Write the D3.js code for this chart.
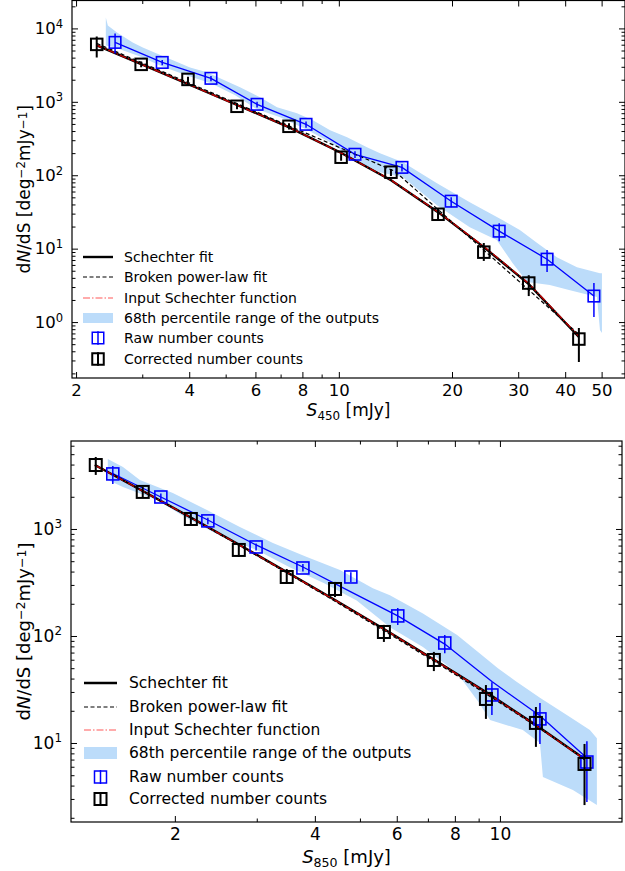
<!DOCTYPE html>
<html><head><meta charset="utf-8">
<script src="https://cdn.jsdelivr.net/npm/d3@7"></script>
<style>
html,body{margin:0;padding:0;background:#fff;}
svg{display:block;font-family:"DejaVu Sans",sans-serif;}
</style></head>
<body>
<svg id="chart" width="625" height="871"></svg>
<script>
// ---------------- 450 um panel data ----------------
const s450CorrX = [2.27, 2.98, 3.97, 5.36, 7.37, 10.14, 13.76, 18.36, 24.3, 32.0, 43.5];
const s450CorrY = [6060, 3240, 2020, 869, 464, 176, 110, 29.4, 8.96, 3.40, 0.587];
const s450CorrHi = [7780, 3550, 2200, 950, 510, 195, 122, 35, 11.9, 4.35, 0.83];
const s450CorrLo = [4030, 2950, 1850, 790, 420, 158, 98, 24.5, 6.8, 2.26, 0.286];

const s450RawX = [2.54, 3.39, 4.57, 6.06, 8.18, 11.04, 14.72, 19.9, 26.7, 35.8, 47.7];
const s450RawY = [6450, 3440, 2090, 925, 494, 193, 128, 44.3, 17.3, 7.19, 2.26];
const s450RawHi = [8550, 3700, 2250, 1000, 540, 212, 142, 50, 22.2, 9.55, 3.40];
const s450RawLo = [4570, 3150, 1900, 840, 445, 172, 112, 36.7, 12.6, 4.79, 1.17];

const s450FitX = [2.27, 2.96, 3.95, 5.36, 7.28, 10.07, 13.77, 18.36, 24.3, 32.0, 43.5];
const s450FitY = [5870, 3310, 1763, 905, 464, 206, 85.5, 31.4, 10.5, 3.29, 0.625];
const s450InputY = [5900, 3300, 1770, 900, 462, 205, 86, 31.6, 10.7, 3.35, 0.64];
const s450BplX = [2.27, 14.1, 43.7];
const s450BplY = [6250, 113, 0.665];

const s450BandUpX = [2.40, 2.43, 2.57, 2.83, 3.01, 3.28, 3.62, 4.02, 4.46, 4.83, 5.46, 6.17, 6.85, 7.74, 8.53, 9.48, 10.52, 11.88, 12.87, 14.81, 18.24, 22.3, 27.3, 30.3, 33.7, 38.0, 43.0, 49.5, 50.1];
const s450BandUpY = [14100, 10990, 8820, 6450, 5515, 4570, 3670, 2945, 2520, 2090, 1575, 1150, 841, 697, 560, 409, 329, 240, 199, 150, 77.8, 43, 24.4, 17.9, 11.9, 7.66, 5.6, 4.64, 4.64];
const s450BandLoX = [2.40, 2.54, 2.96, 3.39, 4.02, 4.57, 5.30, 6.06, 6.98, 8.18, 9.48, 11.04, 12.87, 14.81, 18.24, 22.3, 26.3, 29.0, 31.7, 36.4, 41.2, 48.6, 49.5, 50.1];
const s450BandLoY = [5870, 5515, 4160, 3040, 2220, 1790, 1225, 790, 615, 423, 281, 160, 110, 94, 39.1, 19.6, 13.1, 6.35, 3.50, 3.19, 2.72, 2.19, 0.778, 0.708];

const s450XMajor = [2, 4, 6, 8, 10, 20, 30, 40, 50];
const s450XMinor = [3, 5, 7, 9];
const s450YMajor = [1, 10, 100, 1000, 10000];
const s450YExp = ["0", "1", "2", "3", "4"];

// ---------------- 850 um panel data ----------------
const s850CorrX = [1.352, 1.706, 2.165, 2.745, 3.48, 4.42, 5.63, 7.21, 9.33, 11.95, 15.2];
const s850CorrY = [3960, 2220, 1240, 637, 356, 275, 109, 59.7, 25.8, 15.4, 6.37];
const s850CorrHi = [4710, 2470, 1410, 740, 423, 320, 127, 71, 34.8, 21.7, 9.8];
const s850CorrLo = [3200, 1990, 1090, 547, 306, 231, 88, 47, 16.8, 9.2, 2.63];

const s850RawX = [1.471, 1.866, 2.355, 2.99, 3.77, 4.78, 6.03, 7.61, 9.61, 12.19, 15.38];
const s850RawY = [3270, 1990, 1190, 679, 432, 356, 154, 86, 28.1, 16.8, 6.64];
const s850RawHi = [3880, 2150, 1270, 730, 470, 395, 183, 102, 37, 23.7, 10.4];
const s850RawLo = [2630, 1840, 1110, 630, 400, 320, 127, 69, 18.3, 9.8, 2.81];
const s850RawFitY = [3300, 1990, 1214, 709, 441, 258, 154, 84, 37.5, 18.0, 7.24];

const s850FitX = [1.346, 1.706, 2.165, 2.745, 3.48, 4.42, 5.63, 7.21, 9.33, 11.95, 15.2];
const s850FitY = [3965, 2265, 1281, 716, 396, 217, 116.3, 60.3, 30.0, 14.7, 7.09];
const s850InputY = [3960, 2262, 1279, 714, 395, 216, 116, 60.0, 29.8, 14.6, 7.05];
const s850BplY = [3990, 2255, 1268, 705, 390, 211, 112, 58.2, 28.8, 14.4, 7.2];

const s850BandUpX = [1.435, 1.547, 1.682, 1.98, 2.344, 2.759, 3.25, 3.845, 4.53, 5.33, 5.80, 6.83, 8.09, 9.0, 9.9, 10.8, 12.19, 14.14, 15.61, 16.16];
const s850BandUpY = [4510, 3797, 2871, 2170, 1505, 1044, 740, 547, 414, 280, 240, 162, 102, 70, 50, 38, 26.5, 17.5, 13.2, 11.1];
const s850BandLoX = [1.435, 1.547, 1.83, 2.154, 2.536, 3.0, 3.53, 4.2, 4.92, 5.80, 6.83, 8.09, 9.0, 9.52, 11.2, 12.19, 12.37, 14.35, 16.16];
const s850BandLoY = [2871, 2470, 1866, 1214, 841, 637, 440, 310, 215, 121, 78.9, 45.1, 24, 16.4, 13.2, 10.0, 4.81, 3.64, 2.63];

const s850XMajor = [2, 4, 6, 8, 10];
const s850XMinor = [3, 5, 7, 9];
const s850YMajor = [10, 100, 1000];
const s850YExp = ["1", "2", "3"];

const legendLabels = ["Schechter fit", "Broken power-law fit", "Input Schechter function",
  "68th percentile range of the outputs", "Raw number counts", "Corrected number counts"];

const BAND = "#bcdcfa", BLUE = "#0000ff";

const svg = d3.select("#chart");

function minorLogTicks(lo, hi) {
  const out = [];
  for (let e = Math.floor(Math.log10(lo)); e <= Math.ceil(Math.log10(hi)); e++) {
    for (let m = 2; m <= 9; m++) { const v = m * Math.pow(10, e); if (v >= lo && v <= hi) out.push(v); }
  }
  return out;
}

function drawPanel(o) {
  const x = d3.scaleLog().domain(o.xDom).range([o.L, o.R]);
  const y = d3.scaleLog().domain(o.yDom).range([o.B, o.T]);
  const g = svg.append("g");
  const clipId = "clip" + o.id;
  g.append("clipPath").attr("id", clipId).append("rect")
    .attr("x", o.L).attr("y", o.T).attr("width", o.R - o.L).attr("height", o.B - o.T);
  const pg = g.append("g").attr("clip-path", `url(#${clipId})`);

  // band
  const bandPts = o.bandUpX.map((v, i) => [v, o.bandUpY[i]])
    .concat(o.bandLoX.map((v, i) => [v, o.bandLoY[i]]).reverse());
  pg.append("path").attr("d", d3.line().x(d => x(d[0])).y(d => y(d[1]))(bandPts) + "Z")
    .attr("fill", BAND).attr("stroke", "none");

  const line = d3.line().x(d => x(d[0])).y(d => y(d[1]));
  pg.append("path").attr("d", line(o.rawX.map((v, i) => [v, o.rawFitY[i]])))
    .attr("fill", "none").attr("stroke", BLUE).attr("stroke-width", 1.3);
  pg.append("path").attr("d", line(o.fitX.map((v, i) => [v, o.fitY[i]])))
    .attr("fill", "none").attr("stroke", "#000").attr("stroke-width", 2.4);
  pg.append("path").attr("d", line(o.bplX.map((v, i) => [v, o.bplY[i]])))
    .attr("fill", "none").attr("stroke", "#000").attr("stroke-width", 1.2).attr("stroke-dasharray", "4,2.5");
  pg.append("path").attr("d", line(o.fitX.map((v, i) => [v, o.inputY[i]])))
    .attr("fill", "none").attr("stroke", "#d40000").attr("stroke-width", 1.4)
    .attr("stroke-dasharray", "7,2,1.5,2").attr("opacity", 0.9);

  function points(X, Y, Hi, Lo, col, sw, ew) {
    const pts = X.map((v, i) => ({ x: v, y: Y[i], hi: Hi[i], lo: Lo[i] }));
    pg.append("g").selectAll("line").data(pts).join("line")
      .attr("x1", d => x(d.x)).attr("x2", d => x(d.x))
      .attr("y1", d => y(d.hi)).attr("y2", d => y(d.lo))
      .attr("stroke", col).attr("stroke-width", ew);
    pg.append("g").selectAll("rect").data(pts).join("rect")
      .attr("x", d => x(d.x) - o.ms / 2).attr("y", d => y(d.y) - o.ms / 2)
      .attr("width", o.ms).attr("height", o.ms)
      .attr("fill", "none").attr("stroke", col).attr("stroke-width", sw);
  }
  points(o.rawX, o.rawY, o.rawHi, o.rawLo, BLUE, 1.6, 1.5);
  points(o.corrX, o.corrY, o.corrHi, o.corrLo, "#000", 2, 2);

  g.append("rect").attr("x", o.L).attr("y", o.T).attr("width", o.R - o.L).attr("height", o.B - o.T)
    .attr("fill", "none").attr("stroke", "#000").attr("stroke-width", 1.2);

  const bot = g.append("g").attr("transform", `translate(0,${o.B})`)
    .call(d3.axisBottom(x).tickValues(o.xMajor).tickFormat(d3.format("d")).tickSize(-6).tickSizeOuter(0).tickPadding(6));
  g.append("g").attr("transform", `translate(0,${o.B})`)
    .call(d3.axisBottom(x).tickValues(o.xMinor).tickFormat("").tickSize(-3.5).tickSizeOuter(0));
  g.append("g").attr("transform", `translate(0,${o.T})`)
    .call(d3.axisTop(x).tickValues(o.xMajor).tickFormat("").tickSize(-6).tickSizeOuter(0));
  g.append("g").attr("transform", `translate(0,${o.T})`)
    .call(d3.axisTop(x).tickValues(o.xMinor).tickFormat("").tickSize(-3.5).tickSizeOuter(0));
  const yMinor = minorLogTicks(o.yDom[0], o.yDom[1]);
  const lft = g.append("g").attr("transform", `translate(${o.L},0)`)
    .call(d3.axisLeft(y).tickValues(o.yMajor).tickSize(-6).tickSizeOuter(0).tickPadding(9));
  g.append("g").attr("transform", `translate(${o.L},0)`)
    .call(d3.axisLeft(y).tickValues(yMinor).tickFormat("").tickSize(-3.5).tickSizeOuter(0));
  g.append("g").attr("transform", `translate(${o.R},0)`)
    .call(d3.axisRight(y).tickValues(o.yMajor).tickFormat("").tickSize(-6).tickSizeOuter(0));
  g.append("g").attr("transform", `translate(${o.R},0)`)
    .call(d3.axisRight(y).tickValues(yMinor).tickFormat("").tickSize(-3.5).tickSizeOuter(0));
  g.selectAll(".domain").remove();
  g.selectAll(".tick line").attr("stroke", "#000").attr("stroke-width", 1);
  bot.selectAll("text").attr("font-size", o.tickFs).attr("font-family", "DejaVu Sans").attr("fill", "#000");
  lft.selectAll("text").each(function (d, i) {
    const t = d3.select(this).text("").attr("font-size", o.tickFs).attr("font-family", "DejaVu Sans").attr("fill", "#000");
    t.append("tspan").text("10");
    t.append("tspan").attr("font-size", o.tickFs * 0.7).attr("dy", "-0.55em").text(o.yExp[i]);
  });

  const xl = g.append("text").attr("x", (o.L + o.R) / 2).attr("y", o.xlabY)
    .attr("text-anchor", "middle").attr("font-size", o.labFs).attr("fill", "#000");
  xl.append("tspan").attr("font-style", "italic").text("S");
  xl.append("tspan").attr("font-size", o.labFs * 0.7).attr("dy", "0.3em").text(o.band);
  xl.append("tspan").attr("dy", "-0.21em").text(" [mJy]");

  const yl = g.append("text").attr("transform", `translate(${o.ylabX},${(o.T + o.B) / 2}) rotate(-90)`)
    .attr("text-anchor", "middle").attr("font-size", o.labFs).attr("fill", "#000");
  yl.append("tspan").text("d");
  yl.append("tspan").attr("font-style", "italic").text("N");
  yl.append("tspan").text("/dS [deg");
  yl.append("tspan").attr("font-size", o.labFs * 0.7).attr("dy", "-0.4em").text("\u22122");
  yl.append("tspan").attr("dy", "0.28em").text("mJy");
  yl.append("tspan").attr("font-size", o.labFs * 0.7).attr("dy", "-0.28em").text("\u22121");
  yl.append("tspan").attr("dy", "0.28em").text("]");

  const lg = g.append("g");
  const lx0 = o.legX0, lx1 = o.legX1, mx = (lx0 + lx1) / 2;
  o.legRows.forEach((ry, i) => {
    lg.append("text").attr("x", o.legTx).attr("y", ry).attr("dy", "0.35em")
      .attr("font-size", o.legFs).attr("fill", "#000").text(legendLabels[i]);
  });
  const r = o.legRows;
  lg.append("line").attr("x1", lx0).attr("x2", lx1).attr("y1", r[0]).attr("y2", r[0]).attr("stroke", "#000").attr("stroke-width", 2.4);
  lg.append("line").attr("x1", lx0).attr("x2", lx1).attr("y1", r[1]).attr("y2", r[1]).attr("stroke", "#000").attr("stroke-width", 1.2).attr("stroke-dasharray", "4,2.5");
  lg.append("line").attr("x1", lx0).attr("x2", lx1).attr("y1", r[2]).attr("y2", r[2]).attr("stroke", "#ff0000").attr("stroke-width", 1.2).attr("stroke-dasharray", "7,2,1.5,2").attr("opacity", 0.65);
  lg.append("rect").attr("x", lx0).attr("y", r[3] - o.patchH / 2).attr("width", lx1 - lx0).attr("height", o.patchH).attr("fill", BAND);
  [[r[4], BLUE, 1.5], [r[5], "#000", 2]].forEach(([ry, c, w]) => {
    lg.append("line").attr("x1", mx).attr("x2", mx).attr("y1", ry - o.ms / 2 - 1).attr("y2", ry + o.ms / 2 + 1).attr("stroke", c).attr("stroke-width", w);
    lg.append("rect").attr("x", mx - o.ms / 2).attr("y", ry - o.ms / 2).attr("width", o.ms).attr("height", o.ms).attr("fill", "none").attr("stroke", c).attr("stroke-width", w);
  });
}

drawPanel({
  id: "a", band: "450", L: 72, R: 625, T: 0.5, B: 378,
  xDom: [1.951, 57.7], yDom: [0.173, 24000],
  xMajor: s450XMajor, xMinor: s450XMinor, yMajor: s450YMajor, yExp: s450YExp,
  corrX: s450CorrX, corrY: s450CorrY, corrHi: s450CorrHi, corrLo: s450CorrLo,
  rawX: s450RawX, rawY: s450RawY, rawHi: s450RawHi, rawLo: s450RawLo, rawFitY: s450RawY,
  fitX: s450FitX, fitY: s450FitY, inputY: s450InputY, bplX: s450BplX, bplY: s450BplY,
  bandUpX: s450BandUpX, bandUpY: s450BandUpY, bandLoX: s450BandLoX, bandLoY: s450BandLoY,
  ms: 11.5, tickFs: 16.5, labFs: 17, xlabY: 416, ylabX: 30,
  legRows: [257, 277, 298, 318, 338, 359], legX0: 83, legX1: 113, legTx: 124, legFs: 14, patchH: 10
});

drawPanel({
  id: "b", band: "850", L: 71, R: 622, T: 441, B: 822,
  xDom: [1.196, 18.30], yDom: [1.827, 6640],
  xMajor: s850XMajor, xMinor: s850XMinor, yMajor: s850YMajor, yExp: s850YExp,
  corrX: s850CorrX, corrY: s850CorrY, corrHi: s850CorrHi, corrLo: s850CorrLo,
  rawX: s850RawX, rawY: s850RawY, rawHi: s850RawHi, rawLo: s850RawLo, rawFitY: s850RawFitY,
  fitX: s850FitX, fitY: s850FitY, inputY: s850InputY, bplX: s850FitX, bplY: s850BplY,
  bandUpX: s850BandUpX, bandUpY: s850BandUpY, bandLoX: s850BandLoX, bandLoY: s850BandLoY,
  ms: 12, tickFs: 17, labFs: 18, xlabY: 863, ylabX: 30,
  legRows: [683, 707, 730, 753, 777, 799], legX0: 84, legX1: 117, legTx: 129, legFs: 15.5, patchH: 12
});
</script>
</body></html>
